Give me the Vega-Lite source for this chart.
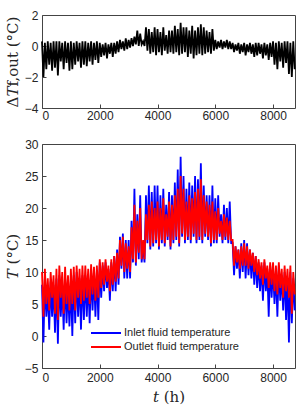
{
 "$schema": "https://vega.github.io/schema/vega-lite/v6.json",
 "padding": {"left": 4, "top": 8, "right": 4, "bottom": 2},
 "spacing": 15,
 "config": {
  "font": "Liberation Sans",
  "view": {"stroke": "#444", "strokeWidth": 1},
  "axis": {"grid": false, "domain": false, "ticks": true, "tickSize": -4, "tickColor": "#444", "labelFont": "Liberation Sans", "labelFontSize": 12, "labelColor": "#262626", "labelPadding": 8, "titleFont": "DejaVu Serif", "titleFontSize": 15, "titleFontWeight": "normal", "titleColor": "#262626", "format": "d"}
 },
 "datasets": {
  "d": [
{"t":0,"d":0.3,"i":8,"o":10},{"t":50,"d":-2,"i":-1,"o":3},{"t":100,"d":0.2,"i":9,"o":10.5},{"t":150,"d":-1.5,"i":3,"o":5},{"t":200,"d":0.3,"i":7,"o":9},{"t":250,"d":-1.2,"i":1,"o":4},{"t":300,"d":0.2,"i":8.5,"o":10},{"t":350,"d":-1.6,"i":3,"o":6},{"t":400,"d":0.3,"i":8,"o":9.5},{"t":450,"d":-1.4,"i":0.5,"o":3.5},
{"t":500,"d":0.3,"i":9,"o":10.5},{"t":550,"d":-1.9,"i":-1.2,"o":2.5},{"t":600,"d":0.3,"i":9.5,"o":11},{"t":650,"d":-1.0,"i":3,"o":6},{"t":700,"d":0.2,"i":8,"o":10},{"t":750,"d":-1.5,"i":1,"o":3.5},{"t":800,"d":0.3,"i":9,"o":10.8},{"t":850,"d":-1.1,"i":2,"o":5},{"t":900,"d":0.2,"i":7.5,"o":9.5},{"t":950,"d":-1.6,"i":1.5,"o":4},
{"t":1000,"d":0.3,"i":8.5,"o":10.5},{"t":1050,"d":-1.5,"i":0,"o":5},{"t":1100,"d":0.2,"i":9.5,"o":10.8},{"t":1150,"d":-1.2,"i":2,"o":4},{"t":1200,"d":0.3,"i":10,"o":11},{"t":1250,"d":-1.0,"i":3,"o":6},{"t":1300,"d":0.2,"i":9,"o":10.5},{"t":1350,"d":-1.4,"i":1,"o":5},{"t":1400,"d":0.3,"i":9.5,"o":11},{"t":1450,"d":-1.2,"i":2.5,"o":5.5},
{"t":1500,"d":0.3,"i":9.5,"o":11},{"t":1550,"d":-1.3,"i":3,"o":6},{"t":1600,"d":0.2,"i":9,"o":10.5},{"t":1650,"d":-1.0,"i":2,"o":5},{"t":1700,"d":0.3,"i":10,"o":11.2},{"t":1750,"d":-1.2,"i":4,"o":6.5},{"t":1800,"d":0.2,"i":9.5,"o":10.8},{"t":1850,"d":-0.9,"i":3,"o":5.5},{"t":1900,"d":0.3,"i":10,"o":11},{"t":1950,"d":-1.1,"i":2.5,"o":6},
{"t":2000,"d":0.2,"i":11.5,"o":12},{"t":2050,"d":-0.7,"i":6,"o":7.5},{"t":2100,"d":0.1,"i":11,"o":11.5},{"t":2150,"d":-0.6,"i":7,"o":8},{"t":2200,"d":0.2,"i":11.5,"o":12},{"t":2250,"d":-0.8,"i":7.5,"o":8.5},{"t":2300,"d":0.1,"i":10.5,"o":11},{"t":2350,"d":-0.5,"i":5.5,"o":7},{"t":2400,"d":0.2,"i":11.5,"o":12},{"t":2450,"d":-0.7,"i":7,"o":8},
{"t":2500,"d":0.2,"i":12.5,"o":12.5},{"t":2550,"d":-0.5,"i":7,"o":8.5},{"t":2600,"d":0.3,"i":13.5,"o":13},{"t":2650,"d":-0.4,"i":8,"o":9},{"t":2700,"d":0.4,"i":15.5,"o":15},{"t":2750,"d":-0.2,"i":10.5,"o":11},{"t":2800,"d":0.3,"i":16,"o":15.5},{"t":2850,"d":-0.3,"i":9,"o":10},{"t":2900,"d":0.5,"i":15,"o":14.5},{"t":2950,"d":-0.2,"i":9,"o":10.5},
{"t":3000,"d":0.4,"i":15,"o":14},{"t":3050,"d":-0.1,"i":9,"o":10},{"t":3100,"d":0.5,"i":18,"o":17},{"t":3150,"d":0,"i":11.5,"o":12},{"t":3200,"d":0.6,"i":23,"o":20.5},{"t":3250,"d":0.1,"i":11,"o":11.5},{"t":3300,"d":1.0,"i":19,"o":18},{"t":3350,"d":0,"i":12,"o":13},{"t":3400,"d":0.8,"i":22,"o":20},{"t":3450,"d":0.1,"i":11.5,"o":12},
{"t":3500,"d":0.3,"i":14,"o":15},{"t":3550,"d":0,"i":11.5,"o":12},{"t":3600,"d":1.2,"i":22,"o":19},{"t":3650,"d":-0.3,"i":14.5,"o":15},{"t":3700,"d":1.1,"i":23.5,"o":20.5},{"t":3750,"d":-0.5,"i":13.5,"o":14},{"t":3800,"d":0.9,"i":22.5,"o":21},{"t":3850,"d":-0.4,"i":14,"o":14.5},{"t":3900,"d":1.2,"i":23.5,"o":20},{"t":3950,"d":-0.6,"i":14.5,"o":15},
{"t":4000,"d":1.1,"i":23.5,"o":21},{"t":4050,"d":-0.4,"i":13.5,"o":14},{"t":4100,"d":0.9,"i":22,"o":20},{"t":4150,"d":-0.6,"i":14.5,"o":15},{"t":4200,"d":1.2,"i":23,"o":21.5},{"t":4250,"d":-0.3,"i":14,"o":14.5},{"t":4300,"d":0.7,"i":20.5,"o":19},{"t":4350,"d":-0.5,"i":15,"o":15.5},{"t":4400,"d":1.0,"i":22.5,"o":21},{"t":4450,"d":-0.4,"i":13.5,"o":14},
{"t":4500,"d":1.0,"i":22,"o":20.5},{"t":4550,"d":-0.5,"i":14.5,"o":15},{"t":4600,"d":1.3,"i":24,"o":22},{"t":4650,"d":-0.4,"i":15,"o":15.5},{"t":4700,"d":1.1,"i":26,"o":23},{"t":4750,"d":-0.6,"i":14,"o":14.5},{"t":4800,"d":1.5,"i":28,"o":25},{"t":4850,"d":-0.5,"i":15.5,"o":16},{"t":4900,"d":1.2,"i":25,"o":23},{"t":4950,"d":-0.4,"i":14.5,"o":15},
{"t":5000,"d":1.2,"i":23,"o":21},{"t":5050,"d":-0.7,"i":15,"o":15.5},{"t":5100,"d":1.0,"i":24,"o":22},{"t":5150,"d":-0.5,"i":14.5,"o":15},{"t":5200,"d":1.3,"i":23.5,"o":21.5},{"t":5250,"d":-0.8,"i":15.5,"o":16},{"t":5300,"d":1.0,"i":25,"o":22.5},{"t":5350,"d":-0.6,"i":14.5,"o":15},{"t":5400,"d":1.2,"i":24.5,"o":23},{"t":5450,"d":-0.5,"i":15,"o":15.5},
{"t":5500,"d":1.4,"i":27,"o":24.5},{"t":5550,"d":-0.6,"i":14.5,"o":15},{"t":5600,"d":1.2,"i":23.5,"o":22},{"t":5650,"d":-0.5,"i":15.5,"o":16},{"t":5700,"d":1.0,"i":22,"o":21},{"t":5750,"d":-0.4,"i":15,"o":15.5},{"t":5800,"d":0.9,"i":22,"o":20.5},{"t":5850,"d":-0.5,"i":14,"o":14.5},{"t":5900,"d":1.1,"i":23.5,"o":21},{"t":5950,"d":-0.3,"i":14.5,"o":15},
{"t":6000,"d":0.4,"i":21.5,"o":19.5},{"t":6050,"d":-0.2,"i":14.5,"o":15},{"t":6100,"d":0.3,"i":22,"o":20},{"t":6150,"d":-0.1,"i":15.5,"o":16},{"t":6200,"d":0.4,"i":19,"o":18},{"t":6250,"d":-0.2,"i":14.5,"o":15},{"t":6300,"d":0.3,"i":20.5,"o":19},{"t":6350,"d":-0.1,"i":15,"o":15.5},{"t":6400,"d":0.4,"i":20,"o":18.5},{"t":6450,"d":-0.2,"i":14.5,"o":15},
{"t":6500,"d":0.3,"i":21,"o":18},{"t":6550,"d":-0.2,"i":14.5,"o":15},{"t":6600,"d":0.2,"i":14.5,"o":15},{"t":6650,"d":-0.4,"i":9.5,"o":11},{"t":6700,"d":0.1,"i":14,"o":14},{"t":6750,"d":-0.3,"i":10.5,"o":11.5},{"t":6800,"d":0.2,"i":13.5,"o":13.5},{"t":6850,"d":-0.5,"i":9,"o":10.5},{"t":6900,"d":0.1,"i":14.5,"o":14},{"t":6950,"d":-0.4,"i":10,"o":11},
{"t":7000,"d":0.2,"i":15,"o":14.5},{"t":7050,"d":-0.6,"i":9,"o":11},{"t":7100,"d":0.1,"i":14.5,"o":14},{"t":7150,"d":-0.4,"i":9.5,"o":10.5},{"t":7200,"d":0.2,"i":13.5,"o":13.5},{"t":7250,"d":-0.5,"i":9,"o":11},{"t":7300,"d":0.1,"i":13,"o":13},{"t":7350,"d":-0.7,"i":8,"o":10},{"t":7400,"d":0.2,"i":12.5,"o":12.5},{"t":7450,"d":-0.6,"i":7.5,"o":9.5},
{"t":7500,"d":0.2,"i":11.5,"o":12},{"t":7550,"d":-0.5,"i":7,"o":9},{"t":7600,"d":0.1,"i":11,"o":11.5},{"t":7650,"d":-0.8,"i":5.5,"o":8},{"t":7700,"d":0.2,"i":11.5,"o":12},{"t":7750,"d":-0.6,"i":7,"o":9},{"t":7800,"d":0.1,"i":10.5,"o":11},{"t":7850,"d":-0.9,"i":3,"o":7.5},{"t":7900,"d":0.2,"i":11,"o":11.5},{"t":7950,"d":-0.7,"i":6,"o":8},
{"t":8000,"d":0.3,"i":10.5,"o":11.5},{"t":8050,"d":-1.2,"i":5,"o":7},{"t":8100,"d":0.2,"i":10,"o":11},{"t":8150,"d":-1.5,"i":3,"o":6.5},{"t":8200,"d":0.3,"i":11,"o":11.5},{"t":8250,"d":-1.0,"i":5.5,"o":7.5},{"t":8300,"d":0.2,"i":9.5,"o":10.5},{"t":8350,"d":-1.4,"i":4,"o":6},{"t":8400,"d":0.3,"i":10,"o":11},{"t":8450,"d":-1.1,"i":2.5,"o":7},
{"t":8500,"d":0.3,"i":9,"o":10.5},{"t":8550,"d":-1.8,"i":-1,"o":6},{"t":8600,"d":0.2,"i":10,"o":11},{"t":8650,"d":-2.0,"i":2,"o":3.5},{"t":8700,"d":0.3,"i":9,"o":10},{"t":8750,"d":-1.5,"i":4,"o":6.5}
  ]
 },
 "vconcat": [
  {
   "width": 253, "height": 93,
   "data": {"name": "d"},
   "mark": {"type": "line", "color": "#000000", "strokeWidth": 1.8},
   "encoding": {
    "x": {"field": "t", "type": "quantitative", "scale": {"domain": [0, 8760], "nice": false}, "axis": {"values": [0, 2000, 4000, 6000, 8000], "title": null, "labelPadding": 6}},
    "y": {"field": "d", "type": "quantitative", "scale": {"domain": [-4, 2], "nice": false}, "axis": {"values": [-4, -2, 0, 2], "title": "Δ𝑇f,out (°C)"}}
   }
  },
  {
   "width": 253, "height": 224,
   "data": {"name": "d"},
   "transform": [{"fold": ["i", "o"], "as": ["series", "T"]}],
   "mark": {"type": "line", "strokeWidth": 1.8},
   "encoding": {
    "x": {"field": "t", "type": "quantitative", "scale": {"domain": [0, 8760], "nice": false}, "axis": {"values": [0, 2000, 4000, 6000, 8000], "title": "𝑡 (h)", "titlePadding": 6}},
    "y": {"field": "T", "type": "quantitative", "scale": {"domain": [-5, 30], "nice": false}, "axis": {"values": [-5, 0, 5, 10, 15, 20, 25, 30], "title": "𝑇 (°C)"}},
    "color": {"field": "series", "type": "nominal", "scale": {"domain": ["i", "o"], "range": ["#0000ff", "#ff0000"]},
     "legend": {"orient": "none", "legendX": 55, "legendY": 309, "title": null, "symbolType": "M-1.875,0H1.875", "symbolSize": 256, "symbolStrokeWidth": 2, "labelOffset": 9, "labelExpr": "datum.label == 'i' ? 'Inlet fluid temperature' : 'Outlet fluid temperature'", "labelFontSize": 11, "labelFont": "Liberation Sans", "labelColor": "#262626", "rowPadding": 0}}
   }
  }
 ]
}
